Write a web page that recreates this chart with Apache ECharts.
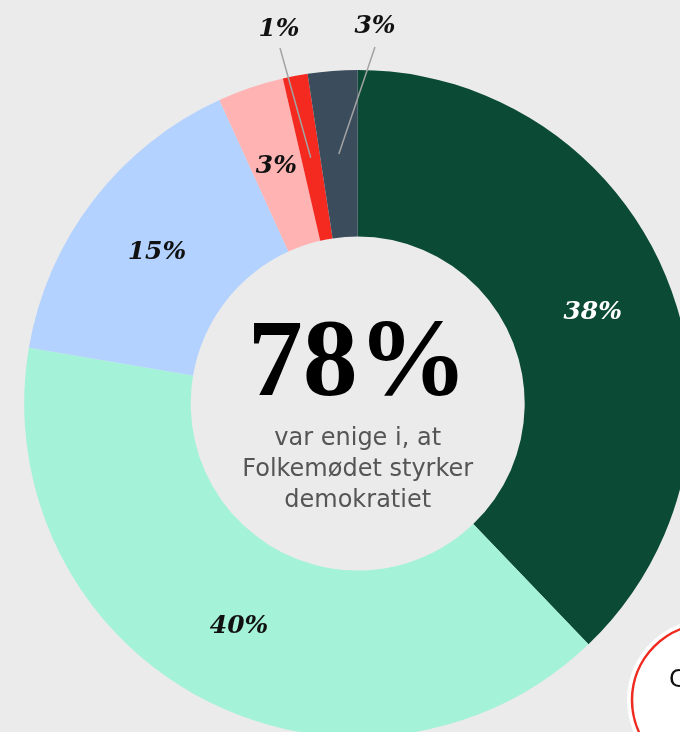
<!DOCTYPE html>
<html>
<head>
<meta charset="utf-8">
<script src="https://cdn.jsdelivr.net/npm/echarts@6/dist/echarts.min.js"></script>
<style>
  html, body { margin: 0; padding: 0; background: #ebebeb; }
  #chart { width: 680px; height: 732px; }
</style>
</head>
<body>
<div id="chart"></div>
<script>
const categories = ['Helt enig', 'Delvist enig', 'Hverken enig eller uenig', 'Delvist uenig', 'Helt uenig', 'Ved ikke']
const values = [37.8, 39.8, 15.5, 3.2, 1.2, 2.4]
const labelTexts = ['38%', '40%', '15%', '3%', '1%', '3%']
const colors = ['#0b4a35', '#a4f2d7', '#b3d2ff', '#ffb3b3', '#f4291f', '#3b4d5c']
const outsideLabels = [4, 5]

const center = [357.7, 403.5]
const innerR = 167
const outerR = 333.5
const midR = (innerR + outerR) / 2
// where the two outside labels and their leader lines end
const outsidePos = { 4: [279, 29], 5: [375, 26] }
const lineEnds = { 4: [280, 48], 5: [375, 47] }

const total = values.reduce((s, v) => s + v, 0)
const midPoint = (index) => {
  const before = values.slice(0, index).reduce((s, v) => s + v, 0)
  const angle = ((before + values[index] / 2) / total) * Math.PI * 2
  return [center[0] + midR * Math.sin(angle), center[1] - midR * Math.cos(angle)]
}

const labelFont = {
  fontFamily: 'DejaVu Serif',
  fontStyle: 'italic',
  fontWeight: 'bold',
  fontSize: 25,
}

const chart = echarts.init(document.getElementById('chart'))

const leaderLines = outsideLabels.map((i) => {
  const start = midPoint(i)
  return {
    type: 'line',
    z: 50,
    silent: true,
    shape: { x1: start[0], y1: start[1], x2: lineEnds[i][0], y2: lineEnds[i][1] },
    style: { stroke: '#a3a3a3', lineWidth: 1.5 },
  }
})

const option = {
  backgroundColor: '#ebebeb',
  animation: false,
  series: [
    {
      type: 'pie',
      center,
      radius: [innerR, outerR],
      startAngle: 90,
      clockwise: true,
      avoidLabelOverlap: false,
      silent: true,
      data: categories.map((name, i) => ({
        name,
        value: values[i],
        itemStyle: { color: colors[i] },
        label: outsideLabels.includes(i)
          ? { position: 'outside', color: '#111' }
          : {
              position: 'inside',
              color: i === 0 ? '#ffffff' : '#111',
              offset: [0, i === 1 ? -1 : 3],
            },
      })),
      label: {
        show: true,
        ...labelFont,
        formatter: (p) => labelTexts[p.dataIndex],
      },
      labelLine: { show: false },
      labelLayout: (params) => {
        const i = params.dataIndex
        if (!outsideLabels.includes(i)) {
          return {}
        }
        return {
          x: outsidePos[i][0],
          y: outsidePos[i][1],
          align: 'center',
          verticalAlign: 'middle',
        }
      },
    },
  ],
  graphic: [
    ...leaderLines,
    {
      type: 'text',
      z: 100,
      x: center[0],
      y: 367,
      style: {
        text: '78%',
        fill: '#000',
        font: 'bold 110px "Liberation Serif"',
        align: 'center',
        verticalAlign: 'middle',
      },
    },
    {
      type: 'text',
      z: 100,
      x: center[0],
      y: 470,
      style: {
        text: 'var enige i, at\nFolkemødet styrker\ndemokratiet',
        fill: '#555555',
        font: '24px "DejaVu Sans"',
        lineHeight: 31,
        align: 'center',
        verticalAlign: 'middle',
      },
    },
    {
      type: 'circle',
      z: 100,
      shape: { cx: 708, cy: 700, r: 81 },
      style: { fill: '#ffffff' },
    },
    {
      type: 'circle',
      z: 101,
      shape: { cx: 708, cy: 700, r: 76 },
      style: { fill: 'none', stroke: '#ef2a1f', lineWidth: 2.5 },
    },
    {
      type: 'text',
      z: 102,
      x: 669,
      y: 681,
      style: {
        text: 'C',
        fill: '#111',
        font: '24px "DejaVu Sans"',
        align: 'left',
        verticalAlign: 'middle',
      },
    },
  ],
}

chart.setOption(option)
</script>
</body>
</html>
